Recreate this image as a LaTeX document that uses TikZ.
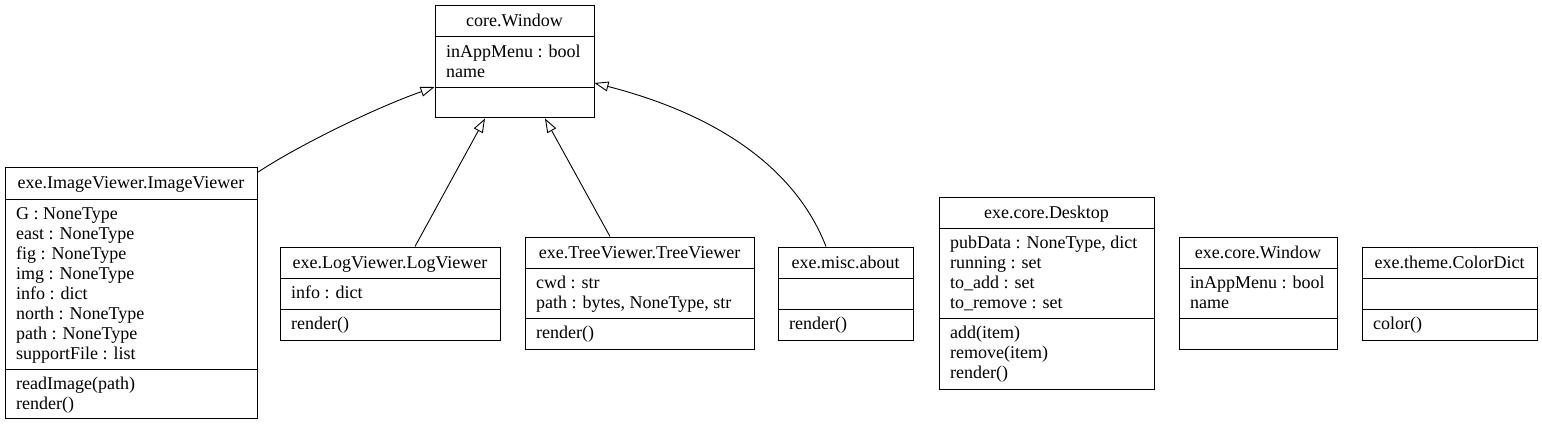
\documentclass[tikz,border=0pt]{standalone}
\usepackage{fontspec}
\setmainfont{Liberation Serif}
\newfontfamily\umlfont{Liberation Serif}
\usetikzlibrary{arrows.meta}

\begin{document}
\begin{tikzpicture}[x=1pt, y=-1pt,
    classbox/.style={draw, line width=1pt, inner sep=0pt},
    divider/.style={line width=1pt},
    title/.style={anchor=base, inner sep=0pt, font=\umlfont\fontsize{18}{20}\selectfont},
    members/.style={anchor=north west, inner sep=0pt, align=left, font=\umlfont\fontsize{18}{20}\selectfont},
    extends/.style={-{Triangle[open, length=14pt, width=10pt]}, line width=0.9pt}]
  \useasboundingbox (0,0) rectangle (1542,425);

  % core.Window
  \node[classbox, minimum width=159pt, minimum height=112pt] (cw) at (514.5,62) {};
  \draw[divider] (cw.west |- 0,37) -- (cw.east |- 0,37);
  \draw[divider] (cw.west |- 0,88) -- (cw.east |- 0,88);
  \node[title] (cw-t) at (514.5,27) {core.Window};
  \node[members] (cw-a) at (446,43) {\strut inAppMenu : bool\\name};

  % exe.ImageViewer.ImageViewer
  \node[classbox, minimum width=252pt, minimum height=251pt] (iv) at (131,292.5) {};
  \draw[divider] (iv.west |- 0,199) -- (iv.east |- 0,199);
  \draw[divider] (iv.west |- 0,369) -- (iv.east |- 0,369);
  \node[title] (iv-t) at (131,188) {exe.ImageViewer.ImageViewer};
  \node[members] (iv-a) at (16,205) {\strut G : NoneType\\east : NoneType\\fig : NoneType\\img : NoneType\\info : dict\\north : NoneType\\path : NoneType\\supportFile : list};
  \node[members] (iv-m) at (16,375) {\strut readImage(path)\\render()};

  % exe.LogViewer.LogViewer
  \node[classbox, minimum width=220pt, minimum height=93pt] (lv) at (390,293.5) {};
  \draw[divider] (lv.west |- 0,278) -- (lv.east |- 0,278);
  \draw[divider] (lv.west |- 0,309) -- (lv.east |- 0,309);
  \node[title] (lv-t) at (390,268) {exe.LogViewer.LogViewer};
  \node[members] (lv-a) at (291,284) {\strut info : dict};
  \node[members] (lv-m) at (291,315) {\strut render()};

  % exe.TreeViewer.TreeViewer
  \node[classbox, minimum width=229pt, minimum height=112pt] (tv) at (639.5,293) {};
  \draw[divider] (tv.west |- 0,268) -- (tv.east |- 0,268);
  \draw[divider] (tv.west |- 0,318) -- (tv.east |- 0,318);
  \node[title] (tv-t) at (639.5,258) {exe.TreeViewer.TreeViewer};
  \node[members] (tv-a) at (536,274) {\strut cwd : str\\path : bytes, NoneType, str};
  \node[members] (tv-m) at (536,324) {\strut render()};

  % exe.misc.about
  \node[classbox, minimum width=135pt, minimum height=93pt] (ab) at (845.5,293.5) {};
  \draw[divider] (ab.west |- 0,278) -- (ab.east |- 0,278);
  \draw[divider] (ab.west |- 0,309) -- (ab.east |- 0,309);
  \node[title] (ab-t) at (845.5,268) {exe.misc.about};
  \node[members] (ab-m) at (789,315) {\strut render()};

  % exe.core.Desktop
  \node[classbox, minimum width=215pt, minimum height=192pt] (dk) at (1046.5,293) {};
  \draw[divider] (dk.west |- 0,228) -- (dk.east |- 0,228);
  \draw[divider] (dk.west |- 0,318) -- (dk.east |- 0,318);
  \node[title] (dk-t) at (1046.5,218) {exe.core.Desktop};
  \node[members] (dk-a) at (950,234) {\strut pubData : NoneType, dict\\running : set\\to\_add : set\\to\_remove : set};
  \node[members] (dk-m) at (950,324) {\strut add(item)\\remove(item)\\render()};

  % exe.core.Window
  \node[classbox, minimum width=158pt, minimum height=112pt] (ew) at (1258,293) {};
  \draw[divider] (ew.west |- 0,268) -- (ew.east |- 0,268);
  \draw[divider] (ew.west |- 0,318) -- (ew.east |- 0,318);
  \node[title] (ew-t) at (1258,258) {exe.core.Window};
  \node[members] (ew-a) at (1190,274) {\strut inAppMenu : bool\\name};

  % exe.theme.ColorDict
  \node[classbox, minimum width=175pt, minimum height=93pt] (cd) at (1449.5,293.5) {};
  \draw[divider] (cd.west |- 0,278) -- (cd.east |- 0,278);
  \draw[divider] (cd.west |- 0,309) -- (cd.east |- 0,309);
  \node[title] (cd-t) at (1449.5,268) {exe.theme.ColorDict};
  \node[members] (cd-m) at (1373,315) {\strut color()};

  % inheritance
  \draw[extends] ([yshift=-6pt]iv.north east) .. controls +(34,-23) and +(-65,23) .. ([yshift=-25pt]cw.west);
  \draw[extends] ([xshift=25pt]lv.north) -- ([xshift=-29.5pt]cw.south);
  \draw[extends] ([xshift=-29.5pt]tv.north) -- ([xshift=30.5pt]cw.south);
  \draw[extends] ([xshift=-19.5pt]ab.north) .. controls +(-34,-87) and +(109,28) .. ([yshift=-21pt]cw.east);
\end{tikzpicture}
\end{document}
